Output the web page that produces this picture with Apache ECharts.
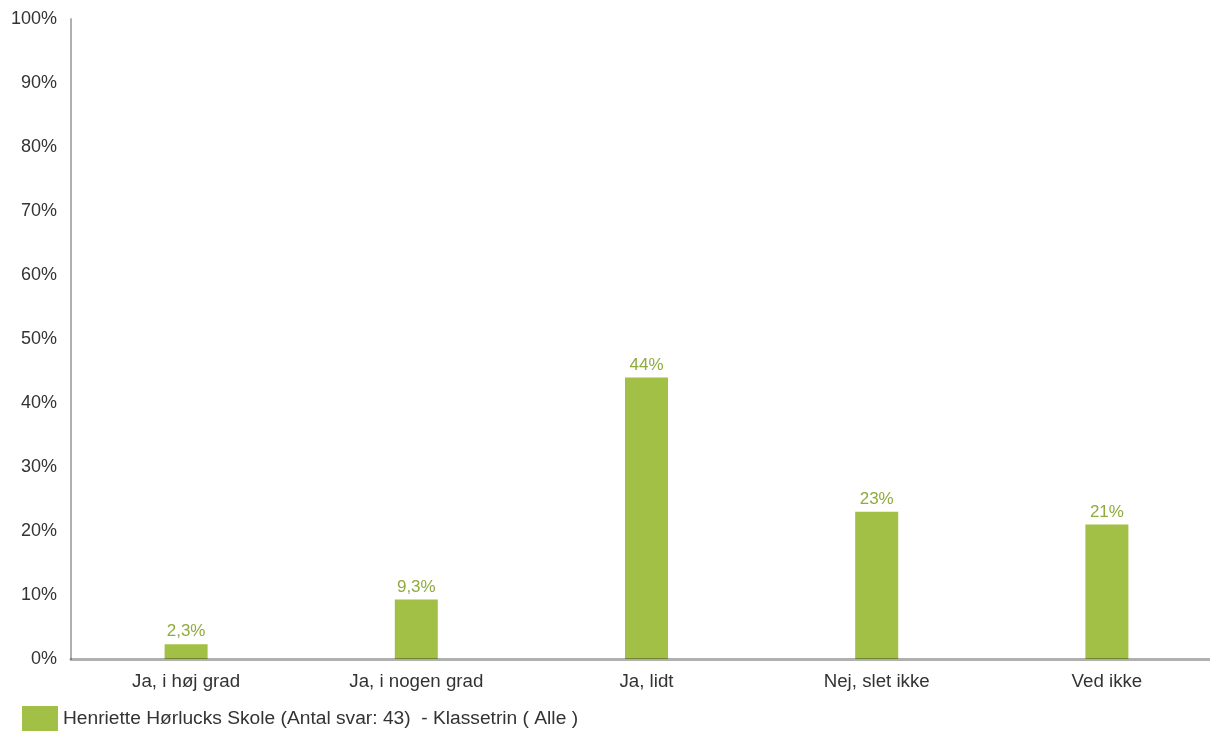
<!DOCTYPE html>
<html><head><meta charset="utf-8">
<script src="https://cdn.jsdelivr.net/npm/echarts@6/dist/echarts.min.js"></script>
<style>html,body{margin:0;padding:0;background:#fff;overflow:hidden}#c{width:1222px;height:731px}</style>
</head><body><div id="c"></div>
<script>
const categories = ['Ja, i høj grad', 'Ja, i nogen grad', 'Ja, lidt', 'Nej, slet ikke', 'Ved ikke'];
const values = [2.3, 9.3, 44, 23, 21];
const valueLabels = ['2,3%', '9,3%', '44%', '23%', '21%'];
const seriesName = 'Henriette Hørlucks Skole (Antal svar: 43)  - Klassetrin ( Alle )';
const chart = echarts.init(document.getElementById('c'));
chart.setOption({
  animation: false,
  textStyle: { fontFamily: 'Liberation Sans, Arial, sans-serif' },
  grid: { left: 71, top: 19, bottom: 72, right: 0 },
  legend: {
    left: 17, top: 701, itemWidth: 36, itemHeight: 25, itemGap: 6,
    icon: 'rect',
    textStyle: { fontSize: 19.2, color: '#333', fontFamily: 'Liberation Sans, Arial, sans-serif' },
    data: [seriesName]
  },
  xAxis: {
    type: 'category', data: categories, z: 10,
    axisLine: { lineStyle: { color: 'rgba(0,0,0,0.31)', width: 3 } },
    axisTick: { show: false },
    axisLabel: { fontSize: 18.7, color: '#333', margin: 13 }
  },
  yAxis: {
    type: 'value', min: 0, max: 100, interval: 10,
    axisLine: { show: true, lineStyle: { color: '#b0b0b0', width: 2 } },
    axisTick: { show: false },
    splitLine: { show: false },
    axisLabel: { fontSize: 18, color: '#333', margin: 14, formatter: '{value}%' }
  },
  series: [{
    name: seriesName, type: 'bar', data: values, barWidth: 43, z: 2,
    itemStyle: { color: '#a2c045' },
    label: {
      show: true, position: 'top', distance: 4, fontSize: 17, color: '#8fab3e',
      formatter: p => valueLabels[p.dataIndex]
    }
  }]
});
</script></body></html>
